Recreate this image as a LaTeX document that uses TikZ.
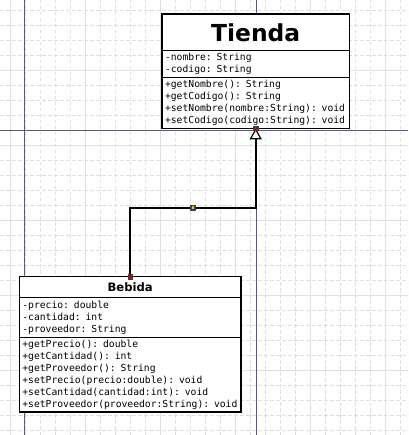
\documentclass[tikz,border=0pt]{standalone}
\usepackage{fontspec}
\newfontfamily\umlmono{DejaVu Sans Mono}
\newfontfamily\umlsans{DejaVu Sans}
\usetikzlibrary{arrows.meta,positioning}
\definecolor{gridminor}{RGB}{222,222,224}
\definecolor{gridmajor}{RGB}{218,226,226}
\definecolor{pageblue}{RGB}{85,85,160}
\definecolor{handlered}{RGB}{165,20,20}
\definecolor{handleorange}{RGB}{240,176,48}

\begin{document}
\begin{tikzpicture}[x=1pt,y=-1pt,node distance=0pt,
  head/.style={draw,line width=1.2pt,fill=white,minimum width=#1,inner sep=0pt,outer sep=0pt,anchor=north},
  part/.style={draw,line width=1pt,fill=white,text width=#1,align=left,inner xsep=3pt,inner ysep=0pt,outer sep=0pt,
    font=\umlmono\fontsize{9.7}{12.1}\selectfont},
  handle/.style={draw=black!75,fill=#1,minimum size=4.5pt,inner sep=0pt}]
  \useasboundingbox (0,0) rectangle (408,435);
  % grid
  \foreach \k in {10,25,...,400} \draw[gridminor,line width=0.8pt,dash pattern=on 3.5pt off 2.5pt] (\k,0) -- (\k,435);
  \foreach \k in {10,25,...,430} \draw[gridminor,line width=0.8pt,dash pattern=on 3.5pt off 2.5pt] (0,\k) -- (408,\k);
  \foreach \k in {10,85,...,385} \draw[gridmajor,line width=0.9pt] (\k,0) -- (\k,435);
  \foreach \k in {70,145,...,370} \draw[gridmajor,line width=0.9pt] (0,\k) -- (408,\k);
  % page borders
  \draw[pageblue,line width=1.3pt] (24.5,0) -- (24.5,435) (256.5,0) -- (256.5,435) (0,130.5) -- (408,130.5);

  % Tienda
  \node[head=187.3pt,minimum height=36.7pt,font=\umlsans\bfseries\fontsize{23.4}{26}\selectfont] (tiendaHead) at (255.7,14) {Tienda};
  \node[part=181.3pt,minimum height=26.6pt,below=of tiendaHead] (tiendaAttr) {-nombre: String\\-codigo: String};
  \node[part=181.3pt,minimum height=51pt,below=of tiendaAttr] (tiendaMet)
    {+getNombre(): String\\+getCodigo(): String\\+setNombre(nombre:String): void\\+setCodigo(codigo:String): void};
  \draw[line width=1.2pt] (tiendaHead.north west) rectangle (tiendaMet.south east);

  % Bebida
  \node[head=221.7pt,minimum height=21pt,font=\umlsans\bfseries\fontsize{11.6}{13}\selectfont] (bebidaHead) at (130.2,276.7) {Bebida};
  \node[part=215.7pt,minimum height=39.6pt,below=of bebidaHead] (bebidaAttr) {-precio: double\\-cantidad: int\\-proveedor: String};
  \node[part=215.7pt,minimum height=74.7pt,below=of bebidaAttr] (bebidaMet)
    {+getPrecio(): double\\+getCantidad(): int\\+getProveedor(): String\\+setPrecio(precio:double): void\\
     +setCantidad(cantidad:int): void\\+setProveedor(proveedor:String): void};
  \draw[line width=1.2pt] (bebidaHead.north west) rectangle (bebidaMet.south east);

  % generalisation
  \draw[line width=1.8pt,-{Triangle[line width=1.2pt,length=11pt,width=12pt,fill=white]}]
    (bebidaHead.north) -- ++(0,-69) coordinate (bend)
    -- node[handle=handleorange] (midHandle) {} (bend -| tiendaMet.south) -- (tiendaMet.south);
  \node[handle=handlered] (startHandle) at (bebidaHead.north) {};
  \node[handle=handlered] (endHandle) at (tiendaMet.south) {};
\end{tikzpicture}
\end{document}
